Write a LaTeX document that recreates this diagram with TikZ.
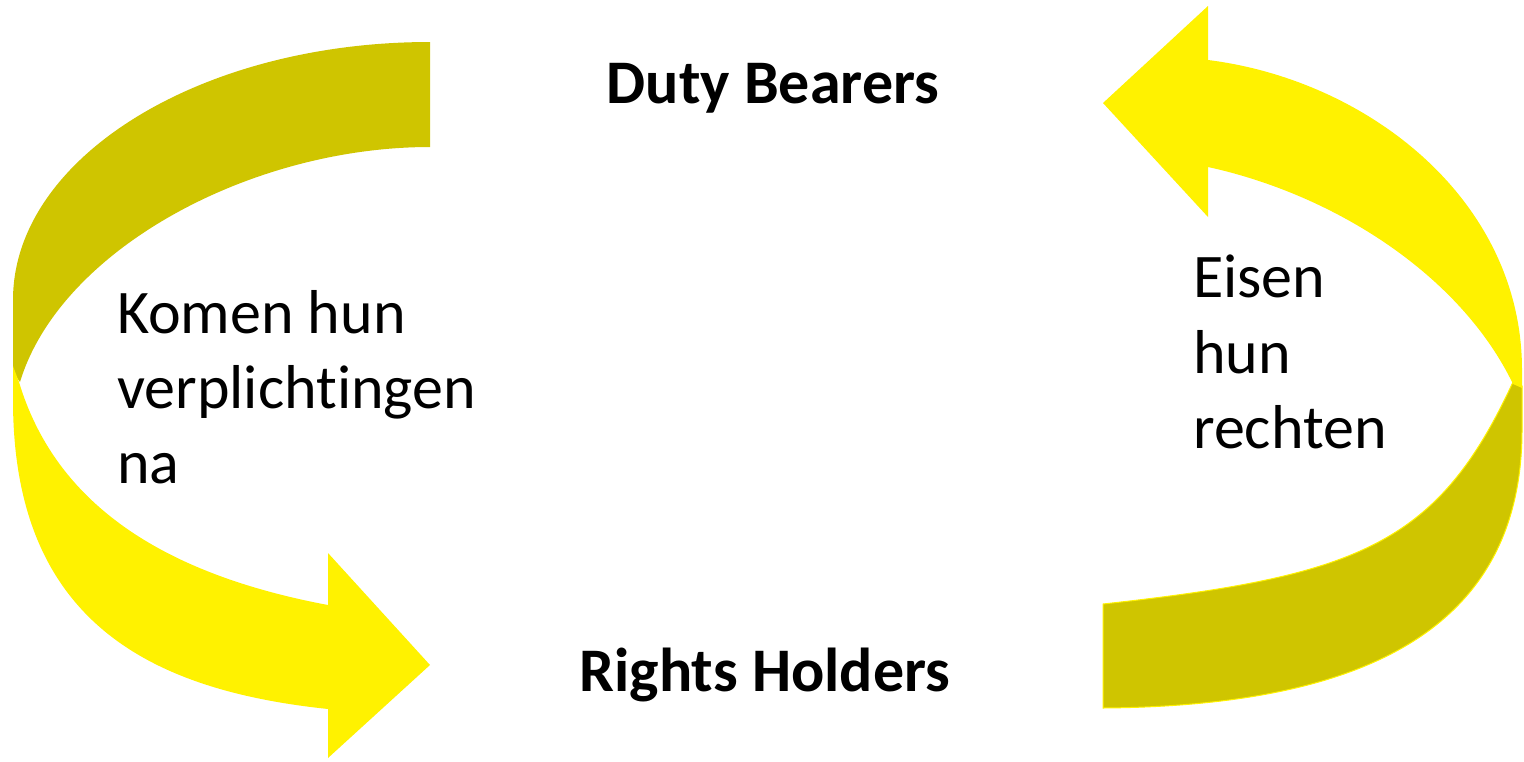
\documentclass[tikz,border=0pt]{standalone}
\usepackage{fontspec}
\setmainfont{Carlito}[Ligatures=NoCommon, RawFeature={-liga;-clig;-dlig;-calt}]
\definecolor{bandyellow}{RGB}{255,242,0}
\definecolor{banddark}{RGB}{207,197,0}
\tikzset{
  front/.style={fill=bandyellow},
  back/.style={fill=banddark},
  lbl/.style={inner sep=0pt, font=\fontsize{62}{75}\selectfont, anchor=base west},
  title/.style={inner sep=0pt, font=\fontsize{62}{75}\selectfont\bfseries, anchor=base}
}
\begin{document}
\begin{tikzpicture}[x=1pt,y=-1pt]
\useasboundingbox (0,0) rectangle (1524,761);
% left arrow, back (dark) part
\path[back] (430,42) .. controls (200,42) and (13,158) .. (13,300) -- (13,372) -- (20,382)
  .. controls (60,250) and (250,147) .. (430,147) -- cycle;
% left arrow, front (yellow) part with head
\path[front] (13,366) -- (13,400) .. controls (13,620) and (148,690) .. (328,709)
  -- (328,758) -- (430,665) -- (328,553) -- (328,605)
  .. controls (160,573.5) and (55,502) .. (19,382) -- cycle;
% right arrow, back (dark) part
\path[back, draw=bandyellow, line width=1pt] (1103,708) .. controls (1363,706) and (1522,630) .. (1522,430)
  -- (1522,386) -- (1513,382)
  .. controls (1438,544.5) and (1359,576) .. (1103,604) -- cycle;
% right arrow, front (yellow) part with head
\path[front] (1522,388) -- (1522,370) .. controls (1522,200) and (1368,80) .. (1208,60)
  -- (1208,6) -- (1103,103) -- (1208,217) -- (1208,167)
  .. controls (1336,195) and (1461,276) .. (1513,384) -- cycle;
% texts
\node[title] (duty) at (773,103) {Duty Bearers};
\node[title] (rights) at (765,691) {Rights Holders};
\node[lbl] (k1) at (117,333) {Komen hun};
\node[lbl] (k2) at (117,408) {verplicht\kern0pt ingen};
\node[lbl] (k3) at (117,483) {na};
\node[lbl] (e1) at (1193,297) {Eisen};
\node[lbl] (e2) at (1193,373) {hun};
\node[lbl] (e3) at (1193,448) {recht\kern0pt en};
\end{tikzpicture}
\end{document}
